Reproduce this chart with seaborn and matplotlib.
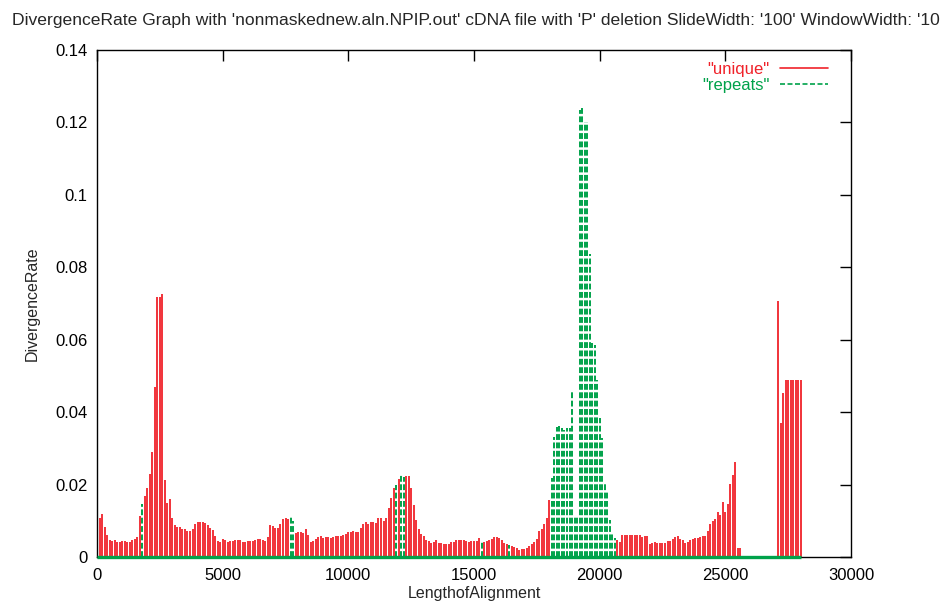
import matplotlib
matplotlib.use("Agg")
import matplotlib.pyplot as plt
from matplotlib.lines import Line2D
import numpy as np
import seaborn as sns

# sliding window start positions (SlideWidth 100)
positions = np.arange(0, 28100, 100)

# divergence rate of the "unique" windows, one value per position (0 where the window is a repeat)
unique_rate = [
    0.0125, 0.0107, 0.0118, 0.0082, 0.0061, 0.0047, 0.0045, 0.0047, 0.0042, 0.0041,
    0.0044, 0.0044, 0.0042, 0.0042, 0.0047, 0.0051, 0.0056, 0.0113, 0, 0.0168,
    0.0191, 0.0229, 0.0289, 0.047, 0.0718, 0.0718, 0.0725, 0.0213, 0.0148, 0.0159,
    0.0109, 0.0087, 0.0082, 0.0082, 0.0077, 0.0077, 0.0071, 0.0071, 0.0077, 0.009,
    0.0097, 0.0098, 0.0097, 0.0095, 0.0089, 0.0081, 0.0075, 0.0059, 0.0044, 0.0042,
    0.0049, 0.0046, 0.0042, 0.0043, 0.0043, 0.0047, 0.0046, 0.0046, 0.0042, 0.0041,
    0.0043, 0.0044, 0.0045, 0.0047, 0.005, 0.0049, 0.0046, 0.0045, 0.0054, 0.0087,
    0.0086, 0.0081, 0.0081, 0.009, 0.0104, 0.0107, 0.0106, 0, 0, 0.0065,
    0.007, 0.007, 0.0067, 0.0076, 0.0061, 0.0042, 0.0044, 0.005, 0.0055, 0.0058,
    0.0052, 0.0055, 0.0055, 0.0052, 0.0054, 0.0058, 0.0057, 0.0057, 0.006, 0.0063,
    0.0068, 0.0068, 0.0071, 0.0069, 0.0069, 0.0081, 0.009, 0.0097, 0.0092, 0.0097,
    0.0096, 0.0095, 0.0108, 0.0108, 0.0099, 0.0109, 0.0134, 0.0162, 0.019, 0,
    0.0215, 0, 0, 0.0224, 0.0224, 0.019, 0.0144, 0.0102, 0.0076, 0.0063,
    0.0058, 0.0047, 0.0043, 0.004, 0.0042, 0.0047, 0.004, 0.0038, 0.0036, 0.0037,
    0.0037, 0.0041, 0.0041, 0.0046, 0.0047, 0.0046, 0.0047, 0.0043, 0.0042, 0.0044,
    0.0044, 0.0044, 0.0052, 0, 0.0042, 0.0044, 0.0047, 0.0051, 0.0054, 0.0054,
    0.0052, 0.0047, 0.004, 0.0036, 0, 0.0029, 0.0027, 0.0024, 0.0019, 0.0021,
    0.0022, 0.0025, 0.003, 0.0036, 0.0041, 0.005, 0.0072, 0.0078, 0.0092, 0.0108,
    0.0157, 0, 0, 0, 0, 0, 0, 0, 0, 0,
    0, 0, 0, 0, 0, 0, 0, 0, 0, 0,
    0, 0, 0, 0, 0, 0, 0, 0.0047, 0.0042, 0.0061,
    0.0061, 0.0062, 0.0062, 0.0061, 0.0062, 0.006, 0.006, 0.0056, 0.0058, 0.0057,
    0.0035, 0.0039, 0.0041, 0.004, 0.004, 0.004, 0.004, 0.0043, 0.0045, 0.0049,
    0.0054, 0.0057, 0.0049, 0.0047, 0.004, 0.0042, 0.0048, 0.0051, 0.0052, 0.0052,
    0.0055, 0.0058, 0.0058, 0.0071, 0.009, 0.0099, 0.0105, 0.0123, 0.0115, 0.0151,
    0.0124, 0.0145, 0.0201, 0.0227, 0.0261, 0.0024, 0.0024, 0, 0, 0,
    0, 0, 0, 0, 0, 0, 0, 0, 0, 0,
    0, 0.0708, 0.0369, 0.0454, 0.049, 0.049, 0.049, 0.049, 0.049, 0.049,
    0.049,
]

# windows flagged as "repeats"
repeat_pos = [1800, 7700, 7800, 11900, 12100, 12200, 15300, 16400,
              18100, 18200, 18300, 18400, 18500, 18600, 18700, 18800, 18900, 19000,
              19100, 19200, 19300, 19400, 19500, 19600, 19700, 19800, 19900, 20000,
              20100, 20200, 20300, 20400, 20500, 20600]
repeat_rate = [0.0145, 0.011, 0.0099, 0.02, 0.0227, 0.022, 0.0045, 0.0034,
               0.0217, 0.0332, 0.036, 0.0362, 0.0357, 0.0352, 0.0355, 0.0355, 0.0461, 0.0113,
               0.0111, 0.1234, 0.1241, 0.1201, 0.1201, 0.0838, 0.059, 0.0585, 0.0489, 0.0383,
               0.0328, 0.0208, 0.018, 0.0102, 0.0065, 0.0052]

title = ("DivergenceRate Graph with 'nonmaskednew.aln.NPIP.out' cDNA file "
         "with 'P' deletion SlideWidth: '100' WindowWidth: '10")

RED = '#f0222a'
GREEN = '#00a24a'

sns.set_style('white')
plt.rcParams['font.family'] = ['Liberation Sans', 'DejaVu Sans']

fig = plt.figure(figsize=(9.45, 6.08), dpi=100)
ax = fig.add_axes([97 / 945, 1 - 557 / 608, (851 - 97) / 945, (557 - 50) / 608])

# impulses
ax.vlines(positions, 0, unique_rate, colors=RED, linewidth=1.3)
ax.hlines(0, positions[0], positions[-1], colors=GREEN, linewidth=2.4, clip_on=False, zorder=3)
ax.vlines(repeat_pos, 0, repeat_rate, colors=GREEN, linewidth=1.4,
          linestyles=(0, (3, 1.3)))

ax.set_xlim(0, 30000)
ax.set_ylim(0, 0.14)
ax.set_xticks(range(0, 30001, 5000))
ax.set_yticks([0, 0.02, 0.04, 0.06, 0.08, 0.1, 0.12, 0.14])
ax.set_yticklabels(['0', '0.02', '0.04', '0.06', '0.08', '0.1', '0.12', '0.14'])
ax.tick_params(direction='in', length=8, width=1, top=True, right=True,
               labelsize=12, colors='black')
ax.tick_params(axis='x', pad=8)
ax.tick_params(axis='y', pad=7)
for s in ax.spines.values():
    s.set_color('black')
    s.set_linewidth(1)

ax.set_xlabel('LengthofAlignment', fontsize=11.5, labelpad=2)
ax.set_ylabel('DivergenceRate', fontsize=11.5, labelpad=11)

handles = [Line2D([], [], color=RED, lw=1.2),
           Line2D([], [], color=GREEN, lw=1.2, linestyle=(0, (3, 1.5)))]
ax.legend(handles, ['"unique"', '"repeats"'], loc='upper right', markerfirst=False,
          labelcolor=[RED, GREEN], frameon=False, fontsize=12, handlelength=2.9,
          handletextpad=0.6, labelspacing=0.1, borderaxespad=0.3,
          bbox_to_anchor=(0.985, 1.0))

fig.text(12 / 945, 1 - 20 / 608, title, ha='left', va='center', fontsize=12.6)

fig.savefig('out.png', dpi=100)
